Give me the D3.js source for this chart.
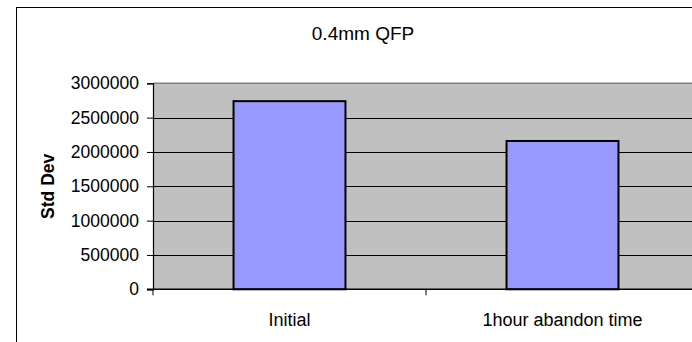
<!DOCTYPE html>
<html>
<head>
<meta charset="utf-8">
<script src="https://cdn.jsdelivr.net/npm/d3@7"></script>
<style>
  html, body { margin: 0; padding: 0; background: #fff; overflow: hidden; }
  svg { display: block; font-family: "Liberation Sans", Arial, sans-serif; }
</style>
</head>
<body>
<svg id="chart" width="692" height="342"></svg>
<script>
// Chart data
const categories = ["Initial", "1hour abandon time"];
const stdDev = [2740000, 2160000];
const yTicks = [0, 500000, 1000000, 1500000, 2000000, 2500000, 3000000];
const chartTitle = "0.4mm QFP";
const yTitle = "Std Dev";

const svg = d3.select("#chart");

// Plot area geometry (the chart frame runs past the right and bottom edges)
const plot = { left: 153, top: 83.3, right: 699, bottom: 289.3 };

// Outer chart frame
svg.append("rect")
  .attr("x", 16.5).attr("y", 7.5)
  .attr("width", 800).attr("height", 400)
  .attr("fill", "#fff").attr("stroke", "#000").attr("stroke-width", 1);

const x = d3.scaleBand()
  .domain(categories)
  .range([plot.left, plot.right])
  .paddingInner(0.59)
  .paddingOuter(0.295);

const y = d3.scaleLinear()
  .domain([0, 3000000])
  .range([plot.bottom, plot.top]);

// Plot background
svg.append("rect")
  .attr("x", plot.left).attr("y", plot.top)
  .attr("width", 760 - plot.left).attr("height", plot.bottom - plot.top)
  .attr("fill", "#c0c0c0");

// Horizontal gridlines
svg.append("g")
  .selectAll("line")
  .data(yTicks.filter(d => d > 0 && d < 3000000))
  .join("line")
  .attr("x1", plot.left).attr("x2", 760)
  .attr("y1", d => Math.round(y(d)) + 0.5).attr("y2", d => Math.round(y(d)) + 0.5)
  .attr("stroke", "#000").attr("stroke-width", 1);

// Top edge of plot area
svg.append("line")
  .attr("x1", plot.left).attr("x2", 760)
  .attr("y1", y(3000000)).attr("y2", y(3000000))
  .attr("stroke", "#808080").attr("stroke-width", 1.5);

// Bars
svg.append("g")
  .selectAll("rect")
  .data(categories.map((c, i) => ({ c, v: stdDev[i] })))
  .join("rect")
  .attr("x", d => x(d.c))
  .attr("y", d => y(d.v))
  .attr("width", x.bandwidth())
  .attr("height", d => y(0) - y(d.v))
  .attr("fill", "#9999ff")
  .attr("stroke", "#000")
  .attr("stroke-width", 2);

// Y axis
const yAxis = d3.axisLeft(y)
  .tickValues(yTicks)
  .tickFormat(d3.format("d"))
  .tickSize(6)
  .tickPadding(8);

const gy = svg.append("g")
  .attr("transform", `translate(${plot.left},0)`)
  .call(yAxis);
gy.select(".domain").attr("stroke", "#000").attr("stroke-width", 1.2);
gy.selectAll(".tick line").attr("stroke", "#000");
gy.selectAll("text")
  .attr("font-size", 17.5)
  .attr("font-family", "'Liberation Sans', Arial, sans-serif")
  .attr("fill", "#000");

// X axis with ticks between categories
const step = x.step();
const boundaries = [plot.left, plot.left + step, plot.left + 2 * step];
const gx = svg.append("g");
gx.append("line")
  .attr("x1", plot.left - 6).attr("x2", 760)
  .attr("y1", y(0)).attr("y2", y(0))
  .attr("stroke", "#000").attr("stroke-width", 1.5);
gx.selectAll("line.tk")
  .data(boundaries)
  .join("line")
  .attr("class", "tk")
  .attr("x1", d => d).attr("x2", d => d)
  .attr("y1", y(0)).attr("y2", y(0) + 6)
  .attr("stroke", "#000").attr("stroke-width", 1);
gx.selectAll("text")
  .data(categories)
  .join("text")
  .attr("x", d => x(d) + x.bandwidth() / 2)
  .attr("y", 326)
  .attr("text-anchor", "middle")
  .attr("font-size", 18)
  .attr("fill", "#000")
  .text(d => d);

// Axis title
svg.append("text")
  .attr("transform", `translate(54,${(plot.top + plot.bottom) / 2}) rotate(-90)`)
  .attr("text-anchor", "middle")
  .attr("font-size", 17.5)
  .attr("font-weight", "bold")
  .attr("fill", "#000")
  .text(yTitle);

// Chart title
svg.append("text")
  .attr("x", 363)
  .attr("y", 39.5)
  .attr("text-anchor", "middle")
  .attr("font-size", 19)
  .attr("fill", "#000")
  .text(chartTitle);
</script>
</body>
</html>
